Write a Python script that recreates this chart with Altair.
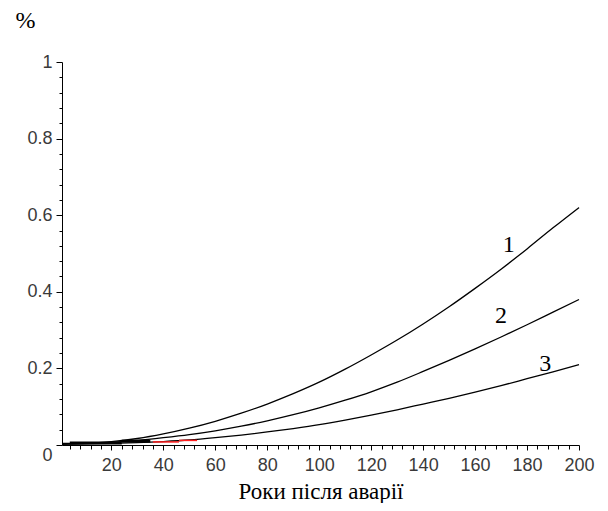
import altair as alt
import pandas as pd

# Years after the accident
years = [1, 10, 20, 30, 40, 50, 60, 70, 80, 90, 100, 110, 120, 130, 140, 150, 160, 170, 180, 190, 200]
curve1 = [0.004, 0.005, 0.009, 0.017, 0.029, 0.044, 0.062, 0.083, 0.107, 0.134, 0.164, 0.198, 0.235, 0.274, 0.316, 0.361, 0.409, 0.459, 0.512, 0.567, 0.620]
curve2 = [0.003, 0.004, 0.007, 0.012, 0.019, 0.027, 0.037, 0.049, 0.063, 0.079, 0.097, 0.117, 0.139, 0.164, 0.192, 0.221, 0.251, 0.282, 0.314, 0.347, 0.380]
curve3 = [0.002, 0.003, 0.004, 0.006, 0.009, 0.013, 0.019, 0.026, 0.034, 0.043, 0.053, 0.065, 0.078, 0.092, 0.107, 0.122, 0.138, 0.155, 0.173, 0.191, 0.210]

# curve labels
lab_text = ["1", "2", "3"]
lab_x = [173, 170, 187]
lab_y = [0.505, 0.318, 0.192]

# small rendering artefacts near the origin
red_x1 = [36, 46]
red_x2 = [46, 53]
red_v = [0.008, 0.012]
blk_x1 = [4, 24]
blk_x2 = [24, 35]
blk_v = [0.005, 0.010]

x_ticks = list(range(4, 201, 4))
y_ticks = [round(i * 0.04, 2) for i in range(26)]

rows = []
for name, vals in (("1", curve1), ("2", curve2), ("3", curve3)):
    for x, v in zip(years, vals):
        rows.append({"year": x, "value": v, "curve": name})
df = pd.DataFrame(rows)
labels = pd.DataFrame({"t": lab_text, "x": lab_x, "y": lab_y})
red = pd.DataFrame({"x1": red_x1, "x2": red_x2, "v": red_v})
blk = pd.DataFrame({"x1": blk_x1, "x2": blk_x2, "v": blk_v})

xscale = alt.Scale(domain=[1, 200], nice=False, zero=False)
yscale = alt.Scale(domain=[0, 1], nice=False)

MAJOR_Y = "abs(datum.value*5 - round(datum.value*5)) < 1e-6"

xaxis = alt.Axis(
    values=x_ticks,
    tickCount=200,
    labelExpr="datum.value % 20 === 0 ? datum.value + '' : ''",
    tickSize={"condition": {"test": "datum.value % 20 === 0", "value": 5}, "value": 4},
    labelPadding=6,
    labelFlush=False,
    labelOverlap=False,
    grid=False,
    title="Роки після аварії",
    titleFont="Liberation Serif",
    titleFontSize=23,
    titleFontWeight="normal",
    titleColor="black",
    titleBaseline="alphabetic",
    titleY=53,
)
yaxis = alt.Axis(
    values=y_ticks,
    tickCount=200,
    labelExpr=MAJOR_Y + " ? format(datum.value, '.1~f') : ''",
    tickSize={"condition": {"test": MAJOR_Y, "value": 6}, "value": 3},
    labelOffset={"condition": {"test": "datum.value === 0", "value": 10}, "value": 0},
    labelPadding=4,
    labelFlush=False,
    labelOverlap=False,
    labelBaseline="middle",
    grid=False,
    title="%",
    titleFont="Liberation Serif",
    titleFontSize=24,
    titleFontWeight="normal",
    titleColor="black",
    titleAngle=0,
    titleAlign="center",
    titleBaseline="alphabetic",
    titleX=-37,
    titleY=-35,
)

lines = alt.Chart(df).mark_line(color="black", strokeWidth=1.3, interpolate="monotone").encode(
    x=alt.X("year:Q", scale=xscale, axis=xaxis),
    y=alt.Y("value:Q", scale=yscale, axis=yaxis),
    detail="curve:N",
)

blk_layer = alt.Chart(blk).mark_rule(color="black", strokeWidth=3).encode(
    x=alt.X("x1:Q", scale=xscale), x2="x2:Q", y=alt.Y("v:Q", scale=yscale)
)
red_layer = alt.Chart(red).mark_rule(color="#ff2020", strokeWidth=1.5).encode(
    x=alt.X("x1:Q", scale=xscale), x2="x2:Q", y=alt.Y("v:Q", scale=yscale)
)

text = alt.Chart(labels).mark_text(
    font="Liberation Serif", fontSize=24, color="black", align="center", baseline="alphabetic"
).encode(
    x=alt.X("x:Q", scale=xscale),
    y=alt.Y("y:Q", scale=yscale),
    text="t:N",
)

chart = alt.layer(lines, blk_layer, red_layer, text).properties(
    width=517,
    height=383,
    autosize=alt.AutoSizeParams(type="none"),
    padding={"left": 54, "top": 54, "right": 21, "bottom": 58},
    background="white",
).configure_view(stroke=None).configure_axis(
    domainColor="black",
    domainWidth=1,
    tickColor="black",
    tickWidth=1,
    labelFont="Liberation Sans",
    labelFontSize=18,
    labelColor="#3a3a3a",
)

chart.save("out.html", embed_options={"renderer": "svg", "actions": False})
